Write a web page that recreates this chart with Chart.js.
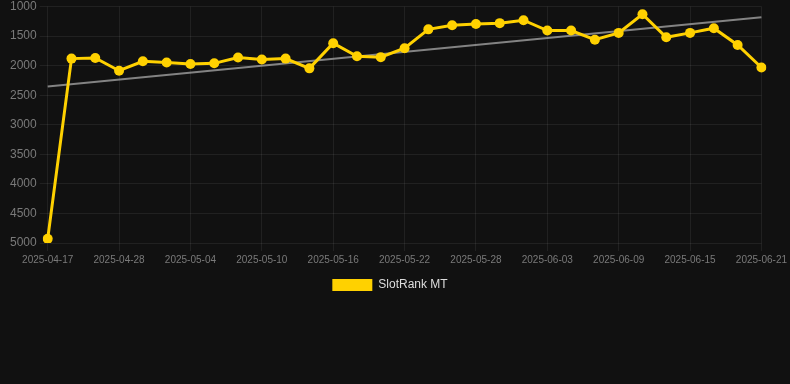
<!DOCTYPE html>
<html>
<head>
<meta charset="utf-8">
<script src="https://cdn.jsdelivr.net/npm/chart.js@4/dist/chart.umd.min.js"></script>
<style>
  html, body { margin: 0; padding: 0; background: #111111; }
  #wrap { width: 790px; height: 384px; position: relative; }
</style>
</head>
<body>
<div id="wrap"><canvas id="rankChart"></canvas></div>
<script>
// dates on the x axis (every 3rd one is shown)
const dates = [
  '2025-04-17','2025-04-24','2025-04-26','2025-04-28','2025-04-30','2025-05-02',
  '2025-05-04','2025-05-06','2025-05-08','2025-05-10','2025-05-12','2025-05-14',
  '2025-05-16','2025-05-18','2025-05-20','2025-05-22','2025-05-24','2025-05-26',
  '2025-05-28','2025-05-30','2025-06-01','2025-06-03','2025-06-05','2025-06-07',
  '2025-06-09','2025-06-11','2025-06-13','2025-06-15','2025-06-17','2025-06-19',
  '2025-06-21'
];

// rank values
const rankMT = [
  4930, 1880, 1870, 2085, 1925, 1945, 1970, 1960, 1860, 1895, 1880, 2045,
  1620, 1840, 1855, 1705, 1385, 1315, 1295, 1280, 1230, 1405, 1405, 1560,
  1445, 1130, 1520, 1445, 1365, 1650, 2030
];

// trend line end points
const trendStart = 2350;
const trendEnd = 1180;

const yTicks = [1000, 1500, 2000, 2500, 3000, 3500, 4000, 4500, 5000];

const trendData = dates.map((d, i) => {
  if (i === 0) return trendStart;
  if (i === dates.length - 1) return trendEnd;
  return null;
});

const gridColor = 'rgba(255,255,255,0.07)';
const fontFam = 'Arial, "Liberation Sans", sans-serif';

new Chart(document.getElementById('rankChart'), {
  type: 'line',
  data: {
    labels: dates,
    datasets: [
      {
        label: 'SlotRank MT',
        data: rankMT,
        borderColor: '#ffd100',
        backgroundColor: '#ffd100',
        borderWidth: 3,
        pointRadius: 5,
        pointBackgroundColor: '#ffd100',
        pointBorderWidth: 0,
        tension: 0,
        order: 0
      },
      {
        label: 'trend',
        data: trendData,
        spanGaps: true,
        borderColor: 'rgba(170,170,170,0.75)',
        borderWidth: 2,
        pointRadius: 0,
        tension: 0,
        order: 1
      }
    ]
  },
  options: {
    responsive: true,
    maintainAspectRatio: false,
    animation: false,
    layout: { padding: { top: 0, left: 0, right: 10, bottom: 83 } },
    plugins: {
      legend: {
        position: 'bottom',
        labels: {
          color: '#dddddd',
          font: { size: 12, family: fontFam },
          boxWidth: 40,
          boxHeight: 12,
          filter: item => item.text !== 'trend',
          generateLabels: chart => {
            const items = Chart.defaults.plugins.legend.labels.generateLabels(chart);
            items.forEach(it => { it.lineWidth = 0; });
            return items;
          }
        }
      },
      tooltip: { enabled: false }
    },
    scales: {
      x: {
        grid: { color: gridColor },
        border: { display: false },
        ticks: {
          color: '#7a7a7a',
          font: { size: 10, family: fontFam },
          maxRotation: 0,
          autoSkip: false,
          callback: function(val, idx) {
            return idx % 3 === 0 ? dates[idx] : null;
          }
        }
      },
      y: {
        reverse: true,
        min: 1000,
        max: 5000,
        afterBuildTicks: axis => { axis.ticks = yTicks.map(v => ({ value: v })); },
        afterFit: axis => { axis.width += 7; },
        grid: { color: gridColor },
        border: { display: false },
        ticks: {
          color: '#7a7a7a',
          font: { size: 12, family: fontFam, lineHeight: 0.6 },
          callback: v => String(v)
        }
      }
    }
  }
});
</script>
</body>
</html>
